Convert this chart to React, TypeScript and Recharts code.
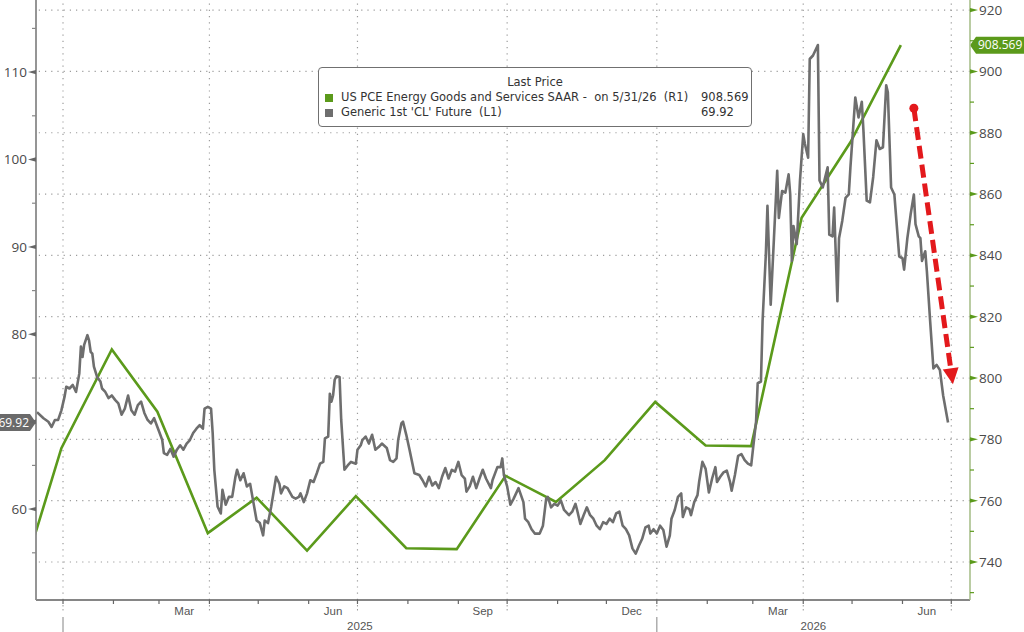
import { LineChart, Line, XAxis, YAxis, ReferenceLine, Legend } from 'recharts'

const EPOCH = Date.UTC(2025, 0, 1)
const DAY_MS = 86400000

function dayOf(date: string) {
  const [y, m, d] = date.split('-').map(Number)
  return (Date.UTC(y, m - 1, d) - EPOCH) / DAY_MS
}

// US PCE Energy Goods and Services SAAR (right axis, monthly)
const pceDates = [
  '2024-11-30', '2024-12-31', '2025-01-31', '2025-02-28', '2025-03-31', '2025-04-30',
  '2025-05-31', '2025-06-30', '2025-07-31', '2025-08-31', '2025-09-30', '2025-10-31',
  '2025-11-30', '2025-12-31', '2026-01-31', '2026-02-28', '2026-03-31', '2026-04-30',
  '2026-05-31',
]
const pceValues = [
  723.2, 777.1, 809.3, 789.0, 749.4, 761.0,
  743.7, 761.5, 744.5, 744.2, 768.1, 759.6,
  773.2, 792.2, 778.0, 777.8, 852.3, 876.9,
  908.569,
]

// Generic 1st 'CL' Future (left axis)
const clDates = [
  '2024-12-16', '2024-12-20', '2024-12-23', '2024-12-25', '2024-12-27', '2024-12-29', '2024-12-31',
  '2025-01-02', '2025-01-03', '2025-01-05', '2025-01-07', '2025-01-09', '2025-01-11', '2025-01-12',
  '2025-01-13', '2025-01-14', '2025-01-16', '2025-01-17', '2025-01-18', '2025-01-19', '2025-01-20',
  '2025-01-22', '2025-01-24', '2025-01-25', '2025-01-27', '2025-01-29', '2025-01-31',
  '2025-02-02', '2025-02-04', '2025-02-06', '2025-02-08', '2025-02-10', '2025-02-12', '2025-02-14',
  '2025-02-16', '2025-02-18', '2025-02-20', '2025-02-22', '2025-02-24', '2025-02-26',
  '2025-03-01', '2025-03-03', '2025-03-04', '2025-03-06', '2025-03-08', '2025-03-10', '2025-03-12',
  '2025-03-14', '2025-03-16', '2025-03-18', '2025-03-20', '2025-03-22', '2025-03-24', '2025-03-26',
  '2025-03-28', '2025-03-29', '2025-03-31',
  '2025-04-02', '2025-04-03', '2025-04-04', '2025-04-06', '2025-04-08', '2025-04-09', '2025-04-11',
  '2025-04-13', '2025-04-15', '2025-04-17', '2025-04-18', '2025-04-20', '2025-04-22', '2025-04-24',
  '2025-04-26', '2025-04-28', '2025-04-30',
  '2025-05-02', '2025-05-04', '2025-05-05', '2025-05-07', '2025-05-09', '2025-05-12', '2025-05-14',
  '2025-05-15', '2025-05-17', '2025-05-19', '2025-05-22', '2025-05-24', '2025-05-26', '2025-05-27',
  '2025-05-29', '2025-05-31',
  '2025-06-02', '2025-06-04', '2025-06-06', '2025-06-08', '2025-06-10', '2025-06-11', '2025-06-13',
  '2025-06-14', '2025-06-15', '2025-06-16', '2025-06-17', '2025-06-18', '2025-06-20', '2025-06-21',
  '2025-06-23', '2025-06-25', '2025-06-27', '2025-06-30',
  '2025-07-01', '2025-07-03', '2025-07-04', '2025-07-06', '2025-07-08', '2025-07-10', '2025-07-12',
  '2025-07-14', '2025-07-16', '2025-07-19', '2025-07-21', '2025-07-23', '2025-07-25', '2025-07-26',
  '2025-07-28', '2025-07-29', '2025-07-31',
  '2025-08-02', '2025-08-05', '2025-08-08', '2025-08-10', '2025-08-12', '2025-08-14', '2025-08-16',
  '2025-08-18', '2025-08-20', '2025-08-22', '2025-08-24', '2025-08-26', '2025-08-28', '2025-08-30',
  '2025-09-01', '2025-09-03', '2025-09-05', '2025-09-06', '2025-09-08', '2025-09-10', '2025-09-12',
  '2025-09-14', '2025-09-16', '2025-09-18', '2025-09-21', '2025-09-22', '2025-09-25', '2025-09-27',
  '2025-09-28', '2025-09-29',
  '2025-10-01', '2025-10-03', '2025-10-05', '2025-10-08', '2025-10-11', '2025-10-12', '2025-10-14',
  '2025-10-16', '2025-10-18', '2025-10-21', '2025-10-23', '2025-10-25', '2025-10-26', '2025-10-28',
  '2025-10-30',
  '2025-11-01', '2025-11-03', '2025-11-05', '2025-11-08', '2025-11-10', '2025-11-12', '2025-11-13',
  '2025-11-15', '2025-11-17', '2025-11-19', '2025-11-21', '2025-11-23', '2025-11-25', '2025-11-27',
  '2025-11-29',
  '2025-12-01', '2025-12-03', '2025-12-05', '2025-12-07', '2025-12-09', '2025-12-11', '2025-12-13',
  '2025-12-15', '2025-12-17', '2025-12-19', '2025-12-21', '2025-12-23', '2025-12-25', '2025-12-27',
  '2025-12-28', '2025-12-30',
  '2026-01-01', '2026-01-03', '2026-01-05', '2026-01-07', '2026-01-09', '2026-01-10', '2026-01-12',
  '2026-01-14', '2026-01-16', '2026-01-17', '2026-01-19', '2026-01-21', '2026-01-22', '2026-01-24',
  '2026-01-26', '2026-01-27', '2026-01-29', '2026-01-31',
  '2026-02-02', '2026-02-04', '2026-02-06', '2026-02-07', '2026-02-09', '2026-02-11', '2026-02-13',
  '2026-02-15', '2026-02-16', '2026-02-18', '2026-02-20', '2026-02-22', '2026-02-24', '2026-02-26',
  '2026-02-28',
  '2026-03-01', '2026-03-03', '2026-03-04', '2026-03-06', '2026-03-07', '2026-03-09', '2026-03-10',
  '2026-03-12', '2026-03-14', '2026-03-16', '2026-03-17', '2026-03-19', '2026-03-21', '2026-03-23',
  '2026-03-24', '2026-03-25', '2026-03-26', '2026-03-28', '2026-03-30',
  '2026-04-01', '2026-04-02', '2026-04-04', '2026-04-05', '2026-04-07', '2026-04-10', '2026-04-11',
  '2026-04-13', '2026-04-14', '2026-04-16', '2026-04-17', '2026-04-19', '2026-04-20', '2026-04-22',
  '2026-04-23', '2026-04-25', '2026-04-27', '2026-04-29', '2026-04-30',
  '2026-05-03', '2026-05-05', '2026-05-07', '2026-05-08', '2026-05-10', '2026-05-12', '2026-05-14',
  '2026-05-16', '2026-05-18', '2026-05-20', '2026-05-22', '2026-05-23', '2026-05-25', '2026-05-27',
  '2026-05-30',
  '2026-06-01', '2026-06-02', '2026-06-04', '2026-06-06', '2026-06-08', '2026-06-09', '2026-06-11',
  '2026-06-12', '2026-06-13', '2026-06-15', '2026-06-16', '2026-06-18', '2026-06-20', '2026-06-22',
  '2026-06-24', '2026-06-26', '2026-06-29',
]
const clValues = [
  71.1, 70.4, 70.0, 69.4, 70.2, 70.2, 71.3,
  72.9, 74.0, 73.8, 74.2, 73.4, 75.5, 78.6,
  77.4, 78.8, 79.9, 79.3, 78.0, 77.8, 76.3,
  75.1, 74.6, 73.8, 73.4, 72.7, 73.0,
  72.5, 72.1, 70.8, 71.5, 73.0, 71.3, 70.8,
  71.9, 72.3, 71.0, 70.2, 69.8, 70.4,
  68.9, 67.9, 66.4, 66.2, 66.9, 66.0, 66.8,
  67.3, 66.8, 67.5, 67.9, 68.7, 69.2, 69.6,
  69.2, 71.5, 71.7,
  71.5, 68.7, 64.5, 60.3, 59.5, 62.2, 60.5,
  61.4, 61.4, 63.7, 64.5, 63.3, 64.1, 62.6,
  62.9, 60.8, 58.7,
  58.4, 57.0, 58.7, 58.4, 60.3, 63.7, 62.9,
  61.8, 62.6, 62.4, 61.4, 61.2, 61.4, 61.8,
  60.8, 61.8,
  63.3, 63.1, 64.1, 65.2, 65.4, 68.1, 68.3,
  73.2, 72.3, 73.0, 74.8, 75.2, 75.1, 70.2,
  64.5, 65.0, 65.4, 65.2,
  66.8, 67.3, 67.9, 68.3, 67.5, 68.5, 66.8,
  67.1, 67.5, 67.0, 65.6, 65.4, 65.8, 67.9,
  69.8, 70.0, 68.5,
  66.8, 64.1, 63.9, 63.3, 62.6, 63.7, 62.7,
  63.1, 62.4, 63.7, 64.7, 63.5, 64.5, 64.3,
  65.4, 63.9, 63.5, 62.0, 62.6, 63.7, 62.4,
  63.5, 64.5, 63.5, 62.4, 63.3, 64.8, 64.8,
  65.8, 63.9,
  62.6, 60.5, 61.2, 62.4, 60.8, 58.9, 58.5,
  57.7, 57.2, 57.2, 58.1, 61.2, 61.4, 60.2,
  60.6,
  60.4, 61.0, 59.9, 59.3, 59.7, 60.6, 59.9,
  58.3, 59.3, 60.2, 59.3, 58.9, 58.1, 57.7,
  58.5,
  58.3, 58.9, 58.5, 59.5, 59.7, 58.1, 57.7,
  57.0, 55.5, 54.9, 55.8, 56.6, 57.9, 58.1,
  57.2, 57.7,
  57.2, 58.1, 57.6, 55.7, 57.0, 58.9, 59.9,
  61.4, 61.8, 59.1, 60.2, 60.0, 59.3, 60.8,
  61.6, 63.1, 65.4, 64.6,
  61.9, 63.5, 64.8, 63.1, 63.7, 64.2, 64.4,
  63.1, 62.1, 63.9, 66.1, 66.3, 65.6, 65.2,
  65.0,
  66.7, 70.0, 74.4, 74.6, 81.5, 89.1, 94.7,
  83.4, 91.0, 98.7, 93.3, 96.4, 96.2, 98.3,
  96.0, 88.4, 92.4, 90.3, 97.6,
  102.9, 101.8, 100.2, 111.5, 111.9, 113.1, 97.6,
  96.8, 97.6, 99.1, 91.4, 91.2, 94.5, 83.8,
  91.0, 93.0, 95.6, 96.0, 99.1,
  107.1, 104.8, 106.6, 103.3, 95.3, 95.1, 98.0,
  102.2, 101.2, 101.4, 108.5, 107.7, 96.8, 96.0,
  88.9,
  88.7, 87.4, 91.0, 93.7, 96.0, 92.6, 91.2,
  91.0, 88.4, 89.5, 87.2, 81.5, 76.1, 76.5,
  75.9, 73.0, 69.92,
]

const leftTicks = [55, 60, 65, 70, 75, 80, 85, 90, 95, 100, 105, 110, 115]
const rightTicks = [730, 740, 750, 760, 770, 780, 790, 800, 810, 820, 830, 840, 850, 860, 870, 880, 890, 900, 910, 920]
const rightGridValues = [740, 760, 780, 800, 820, 840, 860, 880, 900, 920]
const quarterStarts = ['2025-01-01', '2025-04-01', '2025-07-01', '2025-10-01', '2026-01-01', '2026-04-01', '2026-07-01']
const monthStarts = [
  '2025-01-01', '2025-02-01', '2025-03-01', '2025-04-01', '2025-05-01', '2025-06-01',
  '2025-07-01', '2025-08-01', '2025-09-01', '2025-10-01', '2025-11-01', '2025-12-01',
  '2026-01-01', '2026-02-01', '2026-03-01', '2026-04-01', '2026-05-01', '2026-06-01',
  '2026-07-01',
]
const monthLabels: Record<number, string> = { 2: 'Mar', 5: 'Jun', 8: 'Sep', 11: 'Dec' }
const years = ['2025', '2026']

// red annotation arrow, in date / right-axis units
const arrowFrom = { date: '2026-06-08', value: 888 }
const arrowTo = { date: '2026-07-02', value: 798 }

const X_MIN = dayOf('2024-12-15') + 0.4
const X_MAX = dayOf('2026-07-12') + 0.5
const LEFT_DOMAIN = [49.6, 118.25]
const RIGHT_DOMAIN = [727.6, 923.3]

const PLOT_LEFT = 36
const PLOT_RIGHT = 970
const PX_PER_DAY = (PLOT_RIGHT - PLOT_LEFT) / (X_MAX - X_MIN)

const GREEN = '#5b9a1b'
const GRAY = '#6e6e6e'
const RED = '#e3191c'
const AXIS_FONT = "'Open Sans', 'Liberation Sans', sans-serif"

const pceData = pceDates.map((d, i) => ({ day: dayOf(d), pce: pceValues[i] }))
const clData = clDates.map((d, i) => ({ day: dayOf(d), cl: clValues[i] }))

const yearLabelDays = years.map((y) => {
  const start = Math.max(dayOf(`${y}-01-01`), X_MIN)
  const end = Math.min(dayOf(`${Number(y) + 1}-01-01`), X_MAX)
  return { label: y, day: (start + end) / 2 }
})
const xTicks = [...monthStarts.map(dayOf), ...yearLabelDays.map((y) => y.day)].sort((a, b) => a - b)

const lastPce = pceValues[pceValues.length - 1]
const lastCl = clValues[clValues.length - 1]

const legendRows = [
  { color: GREEN, label: 'US PCE Energy Goods and Services SAAR -  on 5/31/26  (R1)', value: String(lastPce) },
  { color: GRAY, label: "Generic 1st 'CL' Future  (L1)", value: String(lastCl) },
]

function MonthTick({ x, y, payload }: any) {
  const v = payload.value
  const yl = yearLabelDays.find((l) => l.day === v)
  if (yl) {
    return (
      <text x={x} y={y + 30} textAnchor="middle" fontSize={11.5} fill="#555" fontFamily="'Liberation Sans', sans-serif">
        {yl.label}
      </text>
    )
  }
  const date = new Date(EPOCH + v * DAY_MS)
  const m = date.getUTCMonth()
  const daysInMonth = new Date(Date.UTC(date.getUTCFullYear(), m + 1, 0)).getUTCDate()
  const label = monthLabels[m]
  return (
    <g>
      <line x1={x} x2={x} y1={y} y2={y + 4} stroke="#666" strokeWidth={1.2} />
      {m % 3 === 0 && (
        <line x1={x} x2={x} y1={y + 5} y2={y + 12} stroke="#999" strokeDasharray="1.5 2.5" />
      )}
      {m === 0 && <line x1={x} x2={x} y1={y + 17} y2={y + 32} stroke="#999" strokeWidth={1.2} />}
      {label && (
        <text
          x={x + (daysInMonth / 2) * PX_PER_DAY}
          y={y + 15}
          textAnchor="middle"
          fontSize={11.5}
          fill="#555"
          fontFamily="'Liberation Sans', sans-serif"
        >
          {label}
        </text>
      )}
    </g>
  )
}

function LeftTick({ x, y, payload }: any) {
  const v = payload.value
  if (v % 10 !== 0) {
    return <line x1={x - 4} x2={x} y1={y} y2={y} stroke="#888" strokeWidth={1.2} />
  }
  // the last-price badge sits over the tick label it covers
  const hidden = Math.abs(v - lastCl) < 2
  return (
    <g>
      <polygon points={`${x - 8},${y} ${x},${y - 2.2} ${x},${y + 2.2}`} fill="#666" />
      {!hidden && (
        <text x={x - 9} y={y} dy="0.36em" textAnchor="end" fontSize={13.5} fill="#4a4a4a" fontFamily={AXIS_FONT}>
          {v}
        </text>
      )}
    </g>
  )
}

function RightTick({ x, y, payload }: any) {
  const v = payload.value
  if (v % 20 !== 0) {
    return <line x1={x} x2={x + 4} y1={y} y2={y} stroke={GREEN} strokeWidth={1.2} />
  }
  return (
    <g>
      <polygon points={`${x + 8},${y} ${x},${y - 2.2} ${x},${y + 2.2}`} fill={GREEN} />
      <text x={x + 9} y={y} dy="0.36em" textAnchor="start" fontSize={13.5} fill="#4a4a4a" fontFamily={AXIS_FONT}>
        {v}
      </text>
    </g>
  )
}

function RightBadge({ viewBox }: any) {
  const x = viewBox.x + viewBox.width
  const y = viewBox.y
  return (
    <g>
      <polygon
        points={`${x},${y} ${x + 6},${y - 8.5} ${x + 60},${y - 8.5} ${x + 60},${y + 8.5} ${x + 6},${y + 8.5}`}
        fill={GREEN}
      />
      <text x={x + 8} y={y} dy="0.36em" fontSize={12} fill="#fff" fontFamily={AXIS_FONT}>
        {lastPce}
      </text>
    </g>
  )
}

function LeftBadge({ viewBox }: any) {
  const x = viewBox.x
  const y = viewBox.y
  return (
    <g>
      <polygon
        points={`${x},${y} ${x - 6},${y - 8.5} ${x - 60},${y - 8.5} ${x - 60},${y + 8.5} ${x - 6},${y + 8.5}`}
        fill="#6a6a6a"
      />
      <text x={x - 7} y={y} dy="0.36em" textAnchor="end" fontSize={12} fill="#fff" fontFamily={AXIS_FONT}>
        {lastCl}
      </text>
    </g>
  )
}

function DashedArrow({ x1, y1, x2, y2 }: any) {
  const len = Math.hypot(x2 - x1, y2 - y1)
  const ux = (x2 - x1) / len
  const uy = (y2 - y1) / len
  const head = 16
  const half = 8
  const bx = x2 - ux * head
  const by = y2 - uy * head
  return (
    <g>
      <line x1={x1} y1={y1} x2={bx} y2={by} stroke={RED} strokeWidth={5} strokeDasharray="13 6" />
      <circle cx={x1} cy={y1} r={4.5} fill={RED} />
      <polygon
        points={`${x2},${y2} ${bx - uy * half},${by + ux * half} ${bx + uy * half},${by - ux * half}`}
        fill={RED}
      />
    </g>
  )
}

function LegendBox() {
  return (
    <div
      style={{
        boxSizing: 'border-box',
        width: 434,
        height: 60,
        border: '1.5px solid #707070',
        borderRadius: 4,
        background: '#fff',
        fontFamily: "'DejaVu Sans', sans-serif",
        fontSize: 11.5,
        color: '#333',
        padding: '7px 4px 0 4px',
        lineHeight: '15px',
      }}
    >
      <div style={{ textAlign: 'center' }}>Last Price</div>
      {legendRows.map((r) => (
        <div key={r.label} style={{ position: 'relative', display: 'flex', alignItems: 'center', height: 15, whiteSpace: 'pre' }}>
          <span style={{ display: 'inline-block', width: 8, height: 8, background: r.color, marginLeft: 2, marginRight: 8 }} />
          <span>{r.label}</span>
          <span style={{ position: 'absolute', left: 378, top: 0 }}>{r.value}</span>
        </div>
      ))}
    </div>
  )
}

export default function App() {
  const gridStroke = '#9c9c9c'
  return (
    <div style={{ position: 'absolute', left: 0, top: 0, width: 1024, height: 632, background: '#fff', overflow: 'hidden' }}>
      <LineChart width={1024} height={632} margin={{ top: 0, right: 0, bottom: 0, left: 0 }}>
        <XAxis
          xAxisId="x"
          dataKey="day"
          type="number"
          domain={[X_MIN, X_MAX]}
          allowDataOverflow
          ticks={xTicks}
          interval={0}
          height={32}
          tickLine={false}
          tickSize={0}
          tickMargin={0}
          tick={<MonthTick />}
          axisLine={{ stroke: '#5e5e5e', strokeWidth: 1.5 }}
        />
        <YAxis
          yAxisId="left"
          orientation="left"
          width={36}
          domain={LEFT_DOMAIN}
          allowDataOverflow
          ticks={leftTicks}
          interval={0}
          tickLine={false}
          tickSize={0}
          tickMargin={0}
          tick={<LeftTick />}
          axisLine={{ stroke: '#8a8a8a', strokeWidth: 1.8 }}
        />
        <YAxis
          yAxisId="right"
          orientation="right"
          width={54}
          domain={RIGHT_DOMAIN}
          allowDataOverflow
          ticks={rightTicks}
          interval={0}
          tickLine={false}
          tickSize={0}
          tickMargin={0}
          tick={<RightTick />}
          axisLine={{ stroke: '#a3bb85', strokeWidth: 1.5 }}
        />

        {rightGridValues.map((v) => (
          <ReferenceLine key={`h${v}`} xAxisId="x" yAxisId="right" y={v} stroke={gridStroke} strokeWidth={1.2} strokeDasharray="1.2 5" />
        ))}
        {quarterStarts.map((d) => (
          <ReferenceLine key={`v${d}`} xAxisId="x" yAxisId="right" x={dayOf(d)} stroke={gridStroke} strokeWidth={1.2} strokeDasharray="1.2 5" />
        ))}

        <Line
          xAxisId="x"
          yAxisId="right"
          data={pceData}
          dataKey="pce"
          type="linear"
          stroke={GREEN}
          strokeWidth={2.6}
          dot={false}
          activeDot={false}
          isAnimationActive={false}
        />
        <Line
          xAxisId="x"
          yAxisId="left"
          data={clData}
          dataKey="cl"
          type="linear"
          stroke={GRAY}
          strokeWidth={2.6}
          strokeLinejoin="round"
          dot={false}
          activeDot={false}
          isAnimationActive={false}
        />

        <ReferenceLine
          xAxisId="x"
          yAxisId="right"
          segment={[
            { x: dayOf(arrowFrom.date), y: arrowFrom.value },
            { x: dayOf(arrowTo.date), y: arrowTo.value },
          ]}
          ifOverflow="visible"
          shape={(p: any) => <DashedArrow {...p} />}
        />
        <ReferenceLine xAxisId="x" yAxisId="right" y={lastPce} stroke="none" label={(p: any) => <RightBadge {...p} />} />
        <ReferenceLine xAxisId="x" yAxisId="left" y={lastCl} stroke="none" label={(p: any) => <LeftBadge {...p} />} />

        <Legend
          verticalAlign="middle"
          align="center"
          layout="horizontal"
          wrapperStyle={{ left: 318, top: 67, width: 434, height: 60 }}
          content={() => <LegendBox />}
        />
      </LineChart>
    </div>
  )
}
